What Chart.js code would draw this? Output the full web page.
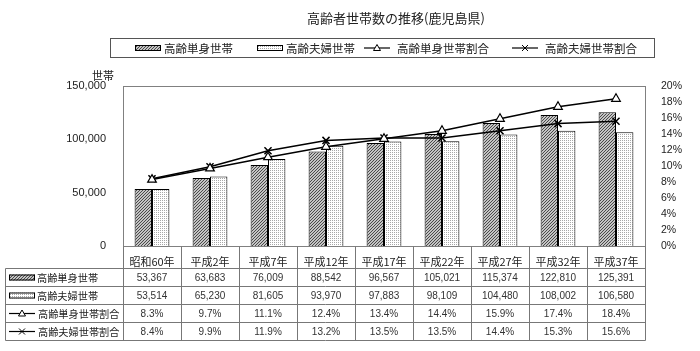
<!DOCTYPE html>
<html>
<head>
<meta charset="utf-8">
<script src="https://cdn.jsdelivr.net/npm/chart.js@4.4.0/dist/chart.umd.min.js"></script>
<style>
  html, body { margin: 0; padding: 0; background: #fff; }
</style>
</head>
<body>
<canvas id="householdChart" width="700" height="351"></canvas>
<script>
// 高齢者世帯数の推移（鹿児島県）
const categories = ['昭和60年', '平成2年', '平成7年', '平成12年', '平成17年', '平成22年', '平成27年', '平成32年', '平成37年'];
const singleHouseholds = [53367, 63683, 76009, 88542, 96567, 105021, 115374, 122810, 125391];
const coupleHouseholds = [53514, 65230, 81605, 93970, 97883, 98109, 104480, 108002, 106580];
const singleRatio = [8.3, 9.7, 11.1, 12.4, 13.4, 14.4, 15.9, 17.4, 18.4];
const coupleRatio = [8.4, 9.9, 11.9, 13.2, 13.5, 13.5, 14.4, 15.3, 15.6];
const seriesNames = ['高齢単身世帯', '高齢夫婦世帯', '高齢単身世帯割合', '高齢夫婦世帯割合'];
const chartTitle = '高齢者世帯数の推移(鹿児島県)';
const leftUnit = '世帯';

const JP = '"Noto Sans CJK JP", sans-serif';
const NUM = '"Liberation Sans", Arial, sans-serif';

// fill patterns for the bars
function makePattern(size, draw) {
    const c = document.createElement('canvas');
    c.width = size; c.height = size;
    const g = c.getContext('2d');
    draw(g);
    return document.getElementById('householdChart').getContext('2d').createPattern(c, 'repeat');
}
const hatch = makePattern(3, g => {
    g.fillStyle = '#c4c4c4'; g.fillRect(0, 0, 3, 3);
    g.fillStyle = '#4a4a4a';
    for (let i = 0; i < 3; i++) g.fillRect(i, 2 - i, 1, 1);
});
const dots = makePattern(2, g => {
    g.fillStyle = '#ffffff'; g.fillRect(0, 0, 2, 2);
    g.fillStyle = '#a8a8a8'; g.fillRect(0, 0, 1, 1);
});

function drawMarker(ctx, kind, x, y) {
    ctx.save();
    ctx.strokeStyle = '#000';
    ctx.lineWidth = 1;
    ctx.beginPath();
    if (kind === 'triangle') {
        ctx.moveTo(x, y - 3.5);
        ctx.lineTo(x + 3.5, y + 2.5);
        ctx.lineTo(x - 3.5, y + 2.5);
        ctx.closePath();
        ctx.fillStyle = '#fff';
        ctx.fill();
        ctx.stroke();
    } else {
        ctx.moveTo(x - 3, y - 3); ctx.lineTo(x + 3, y + 3);
        ctx.moveTo(x + 3, y - 3); ctx.lineTo(x - 3, y + 3);
        ctx.stroke();
    }
    ctx.restore();
}

function drawKey(ctx, idx, x, y) {
    // x: left of the 26px key, y: vertical centre
    if (idx < 2) {
        ctx.fillStyle = idx === 0 ? hatch : dots;
        ctx.fillRect(x, y - 3, 26, 6);
        ctx.strokeStyle = '#000';
        ctx.lineWidth = 1;
        ctx.strokeRect(x + 0.5, y - 2.5, 25, 5);
    } else {
        ctx.strokeStyle = '#000';
        ctx.lineWidth = 1.2;
        ctx.beginPath();
        ctx.moveTo(x, y); ctx.lineTo(x + 26, y);
        ctx.stroke();
        drawMarker(ctx, idx === 2 ? 'triangle' : 'cross', x + 13, y);
    }
}

const decorPlugin = {
    id: 'decor',
    afterDraw(chart) {
        const ctx = chart.ctx;
        const area = chart.chartArea;
        const xs = chart.scales.x;
        ctx.save();

        // plot frame
        ctx.strokeStyle = '#808080';
        ctx.lineWidth = 1;
        ctx.strokeRect(Math.round(area.left) + 0.5, Math.round(area.top) + 0.5,
            Math.round(area.right - area.left), Math.round(area.bottom - area.top));

        // title
        ctx.fillStyle = '#222';
        ctx.font = '13px ' + JP;
        ctx.textAlign = 'center';
        ctx.textBaseline = 'middle';
        ctx.fillText(chartTitle, 396, 18);

        // legend box
        ctx.strokeStyle = '#555';
        ctx.strokeRect(110.5, 38.5, 544, 19);
        const keyX = [135, 257, 364, 512];
        ctx.font = '11.5px ' + JP;
        ctx.textAlign = 'left';
        seriesNames.forEach((name, i) => {
            drawKey(ctx, i, keyX[i], 48);
            ctx.fillStyle = '#222';
            ctx.fillText(name, keyX[i] + (i < 2 ? 29 : 33), 48.5);
        });

        // unit label
        ctx.font = '11px ' + JP;
        ctx.textAlign = 'left';
        ctx.fillText(leftUnit, 92, 76);

        // data table
        const colW = (area.right - area.left) / categories.length;
        const tLeft = 5.5, tRight = Math.round(area.right) + 0.5;
        const hdrTop = Math.round(area.bottom) + 0.5;
        const rowY = [268.5, 286.5, 304.5, 322.5, 340.5];
        ctx.strokeStyle = '#777';
        ctx.lineWidth = 1;
        ctx.beginPath();
        rowY.forEach(y => { ctx.moveTo(tLeft, y); ctx.lineTo(tRight, y); });
        ctx.moveTo(tLeft, rowY[0]); ctx.lineTo(tLeft, rowY[4]);
        for (let i = 0; i <= categories.length; i++) {
            const x = Math.round(area.left + i * colW) + 0.5;
            ctx.moveTo(x, hdrTop); ctx.lineTo(x, rowY[4]);
        }
        ctx.stroke();

        ctx.textAlign = 'center';
        ctx.fillStyle = '#222';
        ctx.font = '11px ' + JP;
        categories.forEach((c, i) => ctx.fillText(c, xs.getPixelForValue(i), 261.5));

        const rows = [
            singleHouseholds.map(v => v.toLocaleString('en-US')),
            coupleHouseholds.map(v => v.toLocaleString('en-US')),
            singleRatio.map(v => v.toFixed(1) + '%'),
            coupleRatio.map(v => v.toFixed(1) + '%')
        ];
        rows.forEach((vals, r) => {
            const cy = (rowY[r] + rowY[r + 1]) / 2;
            ctx.font = '10px ' + NUM;
            ctx.fillStyle = '#333';
            ctx.textAlign = 'center';
            vals.forEach((v, i) => ctx.fillText(v, xs.getPixelForValue(i), cy + 0.5));
            drawKey(ctx, r, 9, cy);
            ctx.font = '10.2px ' + JP;
            ctx.fillStyle = '#222';
            ctx.textAlign = 'left';
            ctx.fillText(seriesNames[r], r < 2 ? 37 : 38, cy + 0.5);
        });
        ctx.restore();
    }
};

new Chart(document.getElementById('householdChart'), {
    type: 'bar',
    data: {
        labels: categories,
        datasets: [
            { label: seriesNames[0], data: singleHouseholds, backgroundColor: hatch, borderColor: '#000', borderWidth: 1, yAxisID: 'y', order: 2, categoryPercentage: 0.6, barPercentage: 1.0 },
            { label: seriesNames[1], data: coupleHouseholds, backgroundColor: dots, borderColor: '#000', borderWidth: 1, yAxisID: 'y', order: 2, categoryPercentage: 0.6, barPercentage: 1.0 },
            { type: 'line', label: seriesNames[2], data: singleRatio, borderColor: '#000', borderWidth: 1.5, tension: 0, pointStyle: 'triangle', pointRadius: 5, pointBackgroundColor: '#fff', pointBorderColor: '#000', pointBorderWidth: 1.2, yAxisID: 'y1', order: 1 },
            { type: 'line', label: seriesNames[3], data: coupleRatio, borderColor: '#000', borderWidth: 1.5, tension: 0, pointStyle: 'crossRot', pointRadius: 5, pointBorderColor: '#000', pointBorderWidth: 1.5, yAxisID: 'y1', order: 1 }
        ]
    },
    options: {
        responsive: false,
        animation: false,
        devicePixelRatio: 1,
        layout: { padding: { top: 86, bottom: 97, left: 0, right: 0 } },
        plugins: {
            legend: { display: false },
            title: { display: false },
            tooltip: { enabled: false }
        },
        scales: {
            x: {
                grid: { display: false },
                border: { display: false },
                ticks: { display: false }
            },
            y: {
                position: 'left',
                min: 0, max: 150000,
                grid: { display: false },
                border: { display: false },
                ticks: {
                    stepSize: 50000,
                    padding: 9,
                    color: '#222',
                    font: { family: NUM, size: 11 },
                    callback: v => v.toLocaleString('en-US')
                },
                afterFit: s => { s.width = 123; }
            },
            y1: {
                position: 'right',
                min: 0, max: 20,
                grid: { display: false },
                border: { display: false },
                ticks: {
                    stepSize: 2,
                    autoSkip: false,
                    padding: 8,
                    color: '#222',
                    font: { family: NUM, size: 10.5 },
                    callback: v => v + '%'
                },
                afterFit: s => { s.width = 55; }
            }
        }
    },
    plugins: [decorPlugin]
});
</script>
</body>
</html>
